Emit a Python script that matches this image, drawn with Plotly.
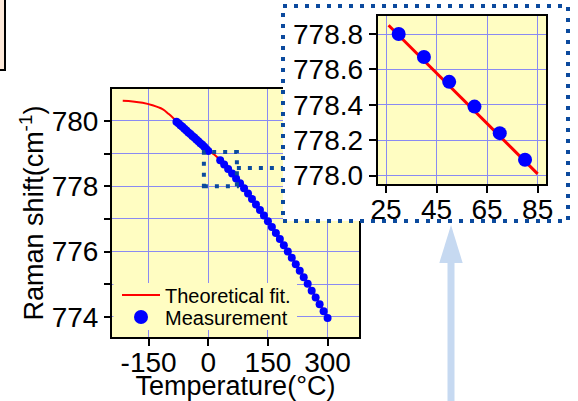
import plotly.graph_objects as go

# ---------------- data ----------------
fit_T = [-215, -190, -165, -140, -115, -100, -80, -60, -40, -20, 0, 15, 30, 50,
         70, 85, 100, 125, 150, 175, 200, 225, 250, 275, 300]
fit_w = [780.62, 780.60, 780.56, 780.48, 780.36, 780.22, 780.00, 779.78, 779.56,
         779.34, 779.12, 778.97, 778.80, 778.53, 778.24, 778.01, 777.78, 777.36,
         776.93, 776.47, 776.00, 775.51, 775.02, 774.50, 773.98]

meas_T = [-80, -75, -70, -65, -60, -55, -50, -45, -40, -35, -30, -25, -20, -15,
          -10, -5, 0,
          30, 40, 50, 60, 70, 80, 90, 100, 110, 120, 130, 140, 150, 160, 170,
          180, 190, 200, 210, 220, 230, 240, 250, 260, 270, 280, 290, 300]
meas_w = [779.98, 779.93, 779.87, 779.82, 779.76, 779.71, 779.65, 779.60, 779.54,
          779.49, 779.43, 779.38, 779.32, 779.27, 779.21, 779.14, 779.08,
          778.80, 778.67, 778.53, 778.39, 778.24, 778.09, 777.94, 777.78, 777.61,
          777.44, 777.27, 777.10, 776.93, 776.75, 776.57, 776.38, 776.19, 776.00,
          775.81, 775.61, 775.41, 775.21, 775.01, 774.80, 774.59, 774.38, 774.17,
          773.96]

inset_fit_T = [26, 45, 65, 85]
inset_fit_w = [778.85, 778.58, 778.30, 778.01]
inset_T = [30, 40, 50, 60, 70, 80]
inset_w = [778.80, 778.67, 778.53, 778.39, 778.24, 778.09]

main_xticks = [-150, 0, 150, 300]
main_xticktext = ["-150", "0", "150", "300"]
inset_xticks = [25, 45, 65, 85]
inset_yticks = [778.0, 778.2, 778.4, 778.6, 778.8]

# ---------------- style ----------------
FONT = "Liberation Sans, Arial, sans-serif"
YEL = "#FFFDC2"
GRID = "#8A8AF2"
RED = "#FF0000"
BLUE = "#0000FF"
DOT = "#0B4A9E"
W, H = 578, 401


def px(x):
    return x / W


def py(y):
    return 1 - y / H


fig = go.Figure()

# main subplot
fig.add_trace(go.Scatter(x=fit_T, y=fit_w, mode="lines", name="Theoretical fit.",
                         line=dict(color=RED, width=2, shape="spline", smoothing=1),
                         legend="legend", xaxis="x", yaxis="y"))
fig.add_trace(go.Scatter(x=meas_T, y=meas_w, mode="markers", name="Measurement",
                         marker=dict(color=BLUE, size=8), showlegend=False,
                         xaxis="x", yaxis="y"))
# white cover subplot (its background hides the main plot under the inset box)
fig.add_trace(go.Scatter(x=[None], y=[None], mode="markers", showlegend=False,
                         hoverinfo="skip", xaxis="x2", yaxis="y2"))
# inset subplot
fig.add_trace(go.Scatter(x=inset_fit_T, y=inset_fit_w, mode="lines", showlegend=False,
                         line=dict(color=RED, width=3), xaxis="x3", yaxis="y3"))
fig.add_trace(go.Scatter(x=inset_T, y=inset_w, mode="markers", name="Measurement",
                         marker=dict(color=BLUE, size=14), legend="legend2",
                         xaxis="x3", yaxis="y3"))

axis_common = dict(showline=True, linewidth=2, linecolor="black", mirror=True,
                   ticks="outside", tickcolor="black", tickwidth=1.5,
                   showgrid=True, gridcolor=GRID, gridwidth=1, zeroline=False,
                   automargin=False,
                   tickfont=dict(size=28, color="black", family=FONT))

legend_common = dict(xanchor="left", yanchor="middle", bgcolor="rgba(0,0,0,0)",
                     borderwidth=0, itemwidth=38,
                     font=dict(size=20, family=FONT, color="black"))

fig.update_layout(
    width=W, height=H,
    margin=dict(l=0, r=0, t=0, b=0, pad=0, autoexpand=False),
    paper_bgcolor="white", plot_bgcolor="white",
    font=dict(family=FONT, color="black"),
    xaxis=dict(domain=[px(112), px(359)], range=[-242, 379], tickvals=main_xticks,
               ticktext=main_xticktext, ticklen=7, anchor="y", ticklabelstandoff=-8,
               title=dict(text="Temperature(°C)", font=dict(size=27), standoff=1),
               **axis_common),
    yaxis=dict(domain=[py(337), py(89)], range=[773.38, 780.98], dtick=2, tick0=774,
               ticklen=6, anchor="x",
               minor=dict(dtick=1, tick0=774, ticks="outside", ticklen=6,
                          tickcolor="black", tickwidth=1.5, showgrid=True,
                          gridcolor=GRID, gridwidth=1),
               title=dict(text="Raman shift(cm<sup>-1</sup>)", font=dict(size=27),
                          standoff=0),
               **axis_common),
    xaxis2=dict(domain=[px(283), px(568)], anchor="y2", visible=False,
                range=[0, 1], showgrid=False, automargin=False),
    yaxis2=dict(domain=[py(221), py(6)], anchor="x2", visible=False,
                range=[0, 1], showgrid=False, automargin=False),
    xaxis3=dict(domain=[px(377.7), px(546)], range=[21.7, 88.3],
                tickvals=inset_xticks, ticklen=7, anchor="y3", ticklabelstandoff=-8,
                **axis_common),
    yaxis3=dict(domain=[py(184.3), py(16)], range=[777.951, 778.902],
                tickvals=inset_yticks, tickformat=".1f", ticklen=7, anchor="x3",
                **axis_common),
    legend=dict(x=px(117), y=py(295), **legend_common),
    legend2=dict(x=px(117), y=py(317), **legend_common),
    showlegend=True,
)

shapes = [
    # yellow background of the main plot
    dict(type="rect", xref="x domain", yref="y domain", x0=0, x1=1, y0=0, y1=1,
         fillcolor=YEL, line=dict(width=0), layer="below"),
    # yellow background of the inset plot
    dict(type="rect", xref="x3", yref="y3", x0=0, x1=200, y0=770, y1=790,
         fillcolor=YEL, line=dict(width=0), layer="below"),
    # opaque legend backdrop
    dict(type="rect", xref="paper", yref="paper", x0=px(113.5), x1=px(297),
         y0=py(330), y1=py(283), fillcolor=YEL, line=dict(width=0), layer="above"),
    # small dotted zoom box
    dict(type="rect", xref="x", yref="y", x0=-11, x1=72, y0=778.0, y1=779.05,
         line=dict(color=DOT, width=4, dash="4px,7px"), layer="above"),
    # connector
    dict(type="line", xref="x", yref="y", x0=72, x1=188, y0=778.56, y1=778.56,
         line=dict(color=DOT, width=4, dash="4px,7px"), layer="above"),
    # big dotted inset box
    dict(type="rect", xref="paper", yref="paper", x0=px(283), x1=px(568),
         y0=py(221), y1=py(6), line=dict(color=DOT, width=4, dash="4px,7px"),
         layer="above"),
    # partial box top-left
    dict(type="rect", xref="paper", yref="paper", x0=-0.02, x1=px(5), y0=py(70),
         y1=1.02, fillcolor="#FDE9D9", line=dict(color="black", width=2),
         layer="above"),
    # arrow shaft
    dict(type="rect", xref="paper", yref="paper", x0=px(447.5), x1=px(454.5),
         y0=-0.02, y1=py(262), fillcolor="#C6D9F1", line=dict(width=0),
         layer="above"),
    # arrow head
    dict(type="path", xref="paper", yref="paper",
         path=f"M {px(439.3)} {py(263)} L {px(462.7)} {py(263)} L {px(451)} {py(225)} Z",
         fillcolor="#C6D9F1", line=dict(width=0), layer="above"),
]
fig.update_layout(shapes=shapes)

fig.write_html("out.html",
               config={"displayModeBar": False},
               post_script="document.body.style.margin='0px';"
               "document.body.style.overflow='hidden';")
